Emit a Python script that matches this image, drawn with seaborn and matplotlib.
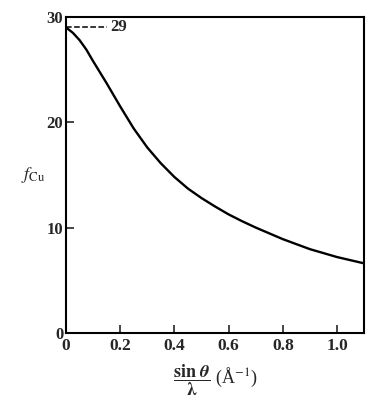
import matplotlib.pyplot as plt
import pandas as pd
import seaborn as sns

# Atomic scattering factor of copper
s_over_lambda = [0.0, 0.025, 0.05, 0.075, 0.1, 0.15, 0.2, 0.25, 0.3, 0.35, 0.4, 0.45, 0.5, 0.55,
                 0.6, 0.65, 0.7, 0.8, 0.9, 1.0, 1.1]
f_cu = [29.0, 28.5, 27.8, 26.9, 25.8, 23.7, 21.5, 19.4, 17.6, 16.1, 14.8, 13.7, 12.8, 12.0,
        11.25, 10.6, 10.0, 8.9, 7.95, 7.2, 6.6]
x_ticks = [0, 0.2, 0.4, 0.6, 0.8, 1.0]
x_labels = ['0', '0.2', '0.4', '0.6', '0.8', '1.0']
y_ticks = [0, 10, 20, 30]

df = pd.DataFrame({'s': s_over_lambda, 'f': f_cu})

sns.set_style('ticks')
plt.rcParams['font.family'] = ['Liberation Serif', 'DejaVu Serif']
plt.rcParams['mathtext.fontset'] = 'stix'

fig = plt.figure(figsize=(3.75, 4.13), dpi=100)
ax = fig.add_axes([0.176, 0.194, 0.795, 0.765])

sns.lineplot(data=df, x='s', y='f', color='black', linewidth=1.7, ax=ax)

# dashed marker for f(0) = 29
ax.plot([0, 0.15], [29, 29], color='black', linestyle='--', linewidth=1.1)
ax.text(0.162, 29, '29', fontsize=12, fontweight='bold', va='center', ha='left')

ax.set_xlim(0, 1.1)
ax.set_ylim(0, 30)
ax.set_xticks(x_ticks)
ax.set_xticklabels(x_labels, fontsize=12.5, fontweight='bold')
ax.set_yticks(y_ticks)
ax.set_yticklabels([str(t) for t in y_ticks], fontsize=12, fontweight='bold')
ax.tick_params(direction='in', length=6, width=1.2, pad=4)
ax.tick_params(axis='y', pad=2)
for sp in ax.spines.values():
    sp.set_linewidth(1.5)
    sp.set_color('black')

ax.set_xlabel(r'$\dfrac{\mathbf{sin}\ \boldsymbol{\theta}}{\boldsymbol{\lambda}}$ (Å$^{-1}$)', fontsize=13, labelpad=6)
ax.set_ylabel(r'$f_{\mathrm{Cu}}$', fontsize=13, rotation=0, labelpad=10, va='center')

fig.savefig('out.png', dpi=100)
